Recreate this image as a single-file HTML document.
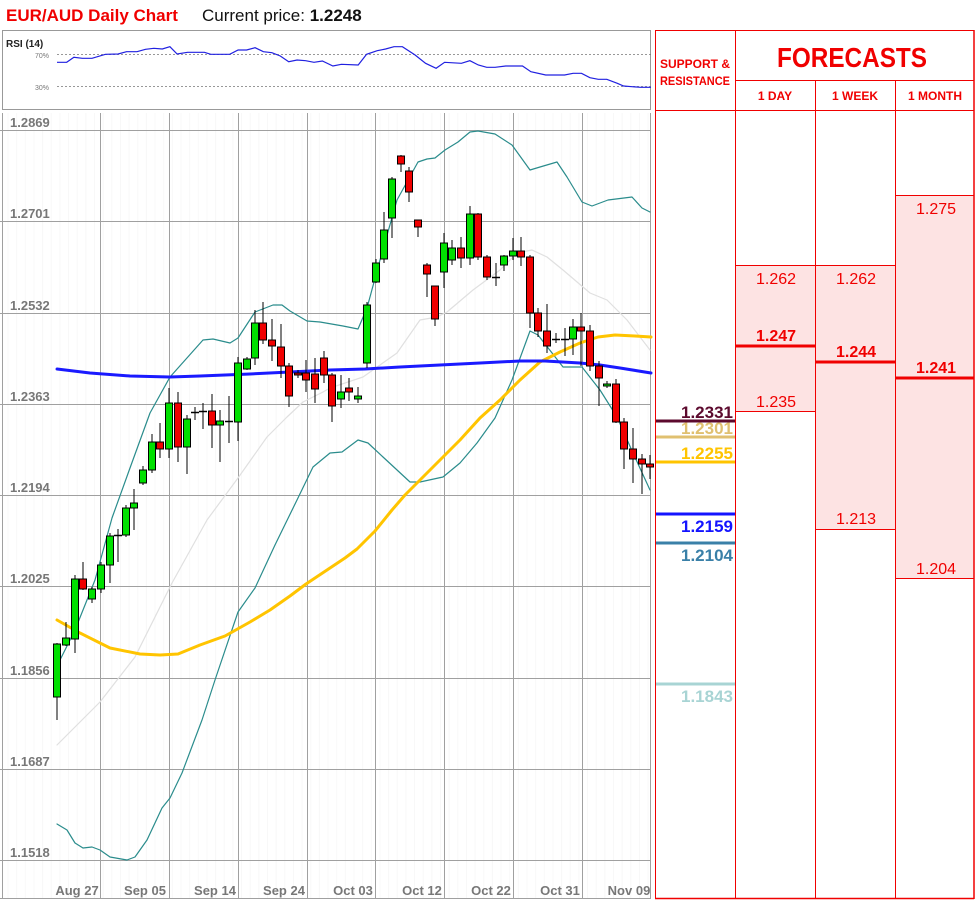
<!DOCTYPE html>
<html><head><meta charset="utf-8">
<style>
html,body{margin:0;padding:0;background:#fff;}
body{width:975px;height:900px;overflow:hidden;position:relative;font-family:"Liberation Sans",sans-serif;}
svg{position:absolute;left:0;top:0;}
</style></head>
<body>
<svg id="s" width="975" height="900" viewBox="0 0 975 900" xmlns="http://www.w3.org/2000/svg" font-family="Liberation Sans, sans-serif">
<text x="6" y="21" font-size="17" font-weight="bold" fill="#f00000">EUR/AUD Daily Chart</text>
<text x="202" y="21" font-size="17" fill="#111">Current price: <tspan font-weight="bold">1.2248</tspan></text>
<rect x="2.5" y="30.5" width="648" height="79" fill="#fff" stroke="#999"/>
<text x="6" y="47" font-size="10" font-weight="bold" fill="#222">RSI (14)</text>
<text x="35" y="58" font-size="7" fill="#777">70%</text>
<text x="35" y="90" font-size="7" fill="#777">30%</text>
<line x1="57" y1="54.5" x2="651" y2="54.5" stroke="#777" stroke-dasharray="2,2" stroke-width="0.8"/>
<line x1="57" y1="86.5" x2="651" y2="86.5" stroke="#777" stroke-dasharray="2,2" stroke-width="0.8"/>
<g id="rsi"></g>
<g id="grid"></g>
<g id="lines"></g>
<g id="candles"></g>
<g id="table"></g>
</svg>
<script>
var NS="http://www.w3.org/2000/svg";
function el(p,t,a,txt){var e=document.createElementNS(NS,t);for(var k in a)e.setAttribute(k,a[k]);if(txt!==undefined)e.textContent=txt;document.getElementById(p).appendChild(e);return e;}
var r=[[135,187],[158,187],[175,172],[195,175],[218,175],[250,163],[280,162],[300,155],[325,155],[345,148],[365,145],[385,147],[403,140],[420,162],[445,157],[485,157],[500,163],[545,163],[565,150],[585,150],[605,143],[625,155],[645,158],[665,168],[685,185],[705,180],[725,182],[745,187],[765,183],[790,198],[810,193],[850,195],[870,163],[895,152],[915,147],[935,140],[955,140],[985,165],[1010,190],[1035,205],[1055,187],[1095,190],[1115,182],[1135,195],[1155,202],[1175,202],[1200,198],[1240,198],[1260,215],[1295,225],[1340,225],[1360,220],[1380,220],[1400,233],[1420,238],[1440,238],[1465,250],[1480,258],[1500,260],[1520,262],[1545,262]];
el("rsi","polyline",{points:r.map(function(p){return (57+(p[0]-135)*(594/1410)).toFixed(1)+","+(p[1]/3).toFixed(1)}).join(" "),fill:"none",stroke:"#2020e0","stroke-width":"1.2"});
for(var x=8;x<651;x+=8.65){el("grid","line",{x1:x,y1:113,x2:x,y2:899,stroke:"#f8f8f8","stroke-width":"1"});}
var hy=[130,221,313,404,495,586,678,769,860],hl=["1.2869","1.2701","1.2532","1.2363","1.2194","1.2025","1.1856","1.1687","1.1518"];
hy.forEach(function(y,i){el("grid","line",{x1:0,y1:y+.5,x2:651,y2:y+.5,stroke:"#a0a0a0"});el("grid","text",{x:10,y:y-3,"font-size":"13","font-weight":"bold",fill:"#777"},hl[i]);});
[100,169,238,307,375,444,513,582].forEach(function(x){el("grid","line",{x1:x+.5,y1:113,x2:x+.5,y2:899,stroke:"#a0a0a0"});});
el("grid","line",{x1:650.5,y1:113,x2:650.5,y2:899,stroke:"#a0a0a0"});
el("grid","line",{x1:2.5,y1:113,x2:2.5,y2:899,stroke:"#a0a0a0"});
el("grid","line",{x1:0,y1:898.5,x2:651,y2:898.5,stroke:"#a0a0a0"});
var dl=[["Aug 27",77],["Sep 05",145],["Sep 14",215],["Sep 24",284],["Oct 03",353],["Oct 12",422],["Oct 22",491],["Oct 31",560],["Nov 09",629]];
dl.forEach(function(d){el("grid","text",{x:d[1],y:895,"font-size":"13","font-weight":"bold",fill:"#777","text-anchor":"middle"},d[0]);});
function pl(pts,c,w){el("lines","polyline",{points:pts.map(function(p){return p.join(",")}).join(" "),fill:"none",stroke:c,"stroke-width":w,"stroke-linejoin":"round","stroke-linecap":"round"});}
pl([[57,745],[100,702],[135,657],[172,583],[207,520],[238,478],[267,437],[287,417],[303,402],[323,392],[330,388],[363,377],[397,353],[420,320],[437,317],[447,312],[473,290],[500,270],[517,253],[532,250],[547,257],[563,270],[590,293],[607,300],[627,320],[650,350]],"#e0e0e0",1.2);
pl([[57,666],[75,630],[95,580],[112,518],[130,468],[150,413],[170,377],[203,340],[213,339],[230,343],[238,338],[255,312],[273,305],[282,305],[290,311],[307,321],[320,322],[343,326],[358,329],[367,308],[380,260],[397,200],[418,162],[427,159],[435,158],[445,150],[458,142],[470,132],[478,131],[495,134],[512,145],[530,170],[540,167],[557,162],[567,177],[582,202],[592,206],[608,200],[632,197],[642,208],[650,212]],"#2a8c8c",1.2);
pl([[57,824],[67,830],[75,843],[83,848],[92,847],[100,850],[110,857],[127,860],[135,857],[147,840],[162,808],[170,798],[182,773],[202,720],[215,680],[238,612],[255,588],[275,545],[297,500],[313,467],[330,453],[342,452],[358,440],[368,443],[383,457],[410,482],[420,482],[443,477],[460,463],[477,443],[495,418],[512,380],[530,331],[538,335],[563,367],[582,367],[600,390],[617,417],[633,453],[650,490]],"#2a8c8c",1.2);
pl([[57,620],[80,633],[110,648],[140,654],[160,655],[178,654],[200,645],[225,636],[250,622],[270,610],[290,596],[306,584],[330,568],[345,558],[357,549],[375,531],[392,510],[405,495],[420,480],[440,460],[460,440],[480,418],[500,400],[520,380],[540,362],[560,352],[580,343],[598,337],[615,335],[635,336],[651,337]],"#ffc400",3);
pl([[57,369],[90,373],[130,376],[170,377],[200,376],[250,374],[290,372],[330,370],[365,369],[400,367],[440,365],[480,363],[520,361],[545,361],[580,363],[600,365],[620,368],[651,373]],"#1a1aff",3);
var C=[[57,697,644,643,720],[66,645,638,622,646],[75,639,579,575,653],[83,579,589,562,590],[92,599,589,587,603],[101,589,565,562,593],[110,565,536,533,583],[118,535,535,529,562],[126,535,508,505,537],[134,508,503,489,530],[143,483,470,466,485],[152,470,442,434,473],[160,442,449,423,458],[169,449,403,388,458],[178,403,447,392,462],[187,447,419,415,474],[195,412,412,407,420],[203,412,411,403,429],[212,411,425,394,448],[220,425,421,410,462],[229,421,422,396,443],[238,422,363,357,441],[247,369,359,357,370],[255,358,323,310,365],[263,323,340,302,344],[272,340,346,319,361],[281,347,366,324,378],[289,366,396,363,407],[298,373,375,370,378],[306,373,380,360,392],[315,374,389,358,403],[324,358,375,351,383],[332,375,406,373,422],[341,399,392,375,408],[349,388,392,378,401],[358,399,396,387,403],[367,363,305,302,368],[376,282,263,259,283],[384,259,230,212,263],[392,218,179,177,238],[401,156,164,155,172],[409,171,192,167,202],[418,220,227,220,237],[427,265,274,263,297],[435,286,319,286,326],[444,272,243,233,288],[452,260,248,240,265],[461,248,258,237,268],[470,258,214,206,265],[478,214,257,213,260],[487,257,277,255,280],[496,277,277,263,286],[504,265,256,255,271],[513,256,251,238,260],[521,251,257,237,266],[530,257,313,255,328],[538,313,331,308,337],[547,331,346,304,353],[556,339,339,333,343],[565,339,339,328,356],[573,339,327,319,355],[581,327,331,313,366],[590,331,366,325,371],[599,366,378,361,406],[607,386,384,381,388],[616,384,422,379,423],[624,422,449,418,469],[633,449,459,428,483],[642,459,464,454,494],[650,464,467,455,479]];
C.forEach(function(c){var x=c[0],o=c[1],cl=c[2];el("candles","line",{x1:x,y1:c[3],x2:x,y2:c[4],stroke:"#000","stroke-width":"1"});
 var t=Math.min(o,cl),h=Math.abs(o-cl);
 if(h<1.5){el("candles","line",{x1:x-4,y1:t+.5,x2:x+4,y2:t+.5,stroke:"#000","stroke-width":"1.5"});}
 else el("candles","rect",{x:x-3.5,y:t,width:7,height:h,fill:cl<o?"#00e000":"#f00000",stroke:"#000","stroke-width":"1"});});
var R="#f00000";
function tl(x1,y1,x2,y2,w,c){el("table","line",{x1:x1,y1:y1,x2:x2,y2:y2,stroke:c||R,"stroke-width":w||1});}
el("table","rect",{x:735,y:265,width:80,height:146,fill:"#fde3e3"});
el("table","rect",{x:815,y:265,width:80,height:264,fill:"#fde3e3"});
el("table","rect",{x:895,y:195,width:79,height:383,fill:"#fde3e3"});
tl(735,265.5,895,265.5);tl(735,411.5,815,411.5);tl(815,529.5,895,529.5);tl(895,195.5,974,195.5);tl(895,578.5,974,578.5);
tl(735,346,815,346,3);tl(815,362,895,362,3);tl(895,378,974,378,3);
tl(655.5,30,655.5,899);tl(735.5,30,735.5,899);tl(815.5,80,815.5,899);tl(895.5,80,895.5,899);tl(974,30,974,899,1.5);
tl(655,30.5,974,30.5);tl(735,80.5,974,80.5);tl(655,110.5,974,110.5);tl(655,898.5,974,898.5,1.5);
el("table","text",{x:695,y:68,"font-size":"12","font-weight":"bold",fill:R,"text-anchor":"middle"},"SUPPORT &");
el("table","text",{x:695,y:85,"font-size":"12","font-weight":"bold",fill:R,"text-anchor":"middle","textLength":"70","lengthAdjust":"spacingAndGlyphs"},"RESISTANCE");
el("table","text",{x:852,y:67,"font-size":"28","font-weight":"bold",fill:R,"text-anchor":"middle","textLength":"150","lengthAdjust":"spacingAndGlyphs"},"FORECASTS");
[["1 DAY",775],["1 WEEK",855],["1 MONTH",935]].forEach(function(d){el("table","text",{x:d[1],y:100,"font-size":"12","font-weight":"bold",fill:R,"text-anchor":"middle"},d[0]);});
function ft(x,y,t,b){el("table","text",{x:x,y:y,"font-size":"16","font-weight":b?"bold":"normal",fill:R,"text-anchor":"middle"},t);}
ft(776,284,"1.262");ft(776,341,"1.247",1);ft(776,407,"1.235");
ft(856,284,"1.262");ft(856,357,"1.244",1);ft(856,524,"1.213");
ft(936,214,"1.275");ft(936,373,"1.241",1);ft(936,574,"1.204");
[[421,"#5c0a2e","1.2331"],[437,"#e0c070","1.2301"],[462,"#ffc400","1.2255"]].forEach(function(s){tl(656,s[0],735,s[0],3,s[1]);el("table","text",{x:733,y:s[0]-3,"font-size":"17","font-weight":"bold",fill:s[1],"text-anchor":"end"},s[2]);});
[[514,"#1414ff","1.2159"],[543,"#3a80a8","1.2104"],[684,"#a8d4d4","1.1843"]].forEach(function(s){tl(656,s[0],735,s[0],3,s[1]);el("table","text",{x:733,y:s[0]+18,"font-size":"17","font-weight":"bold",fill:s[1],"text-anchor":"end"},s[2]);});
</script>
</body></html>
